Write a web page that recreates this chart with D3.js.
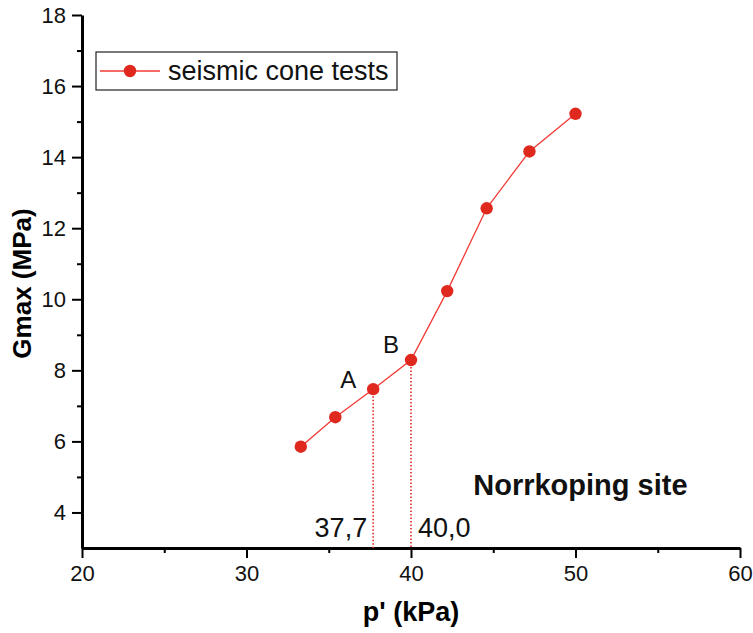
<!DOCTYPE html>
<html>
<head>
<meta charset="utf-8">
<script src="https://cdn.jsdelivr.net/npm/d3@7"></script>
<style>
  body { margin: 0; background: #fff; }
  svg { display: block; font-family: Arial, "Liberation Sans", sans-serif; }
</style>
</head>
<body>
<svg></svg>
<script>
// data
var pressure = [33.3, 35.4, 37.7, 40.0, 42.2, 44.6, 47.2, 50.0];
var gmax = [5.85, 6.68, 7.47, 8.29, 10.23, 12.56, 14.16, 15.22];
var xTicks = [20, 30, 40, 50, 60];
var yTicks = [4, 6, 8, 10, 12, 14, 16, 18];
var markLines = [37.7, 40.0];
var markLabels = ["37,7", "40,0"];
var pointNames = ["A", "B"];

var margin = { top: 15, right: 13, bottom: 85, left: 82 },
    width = 753 - margin.left - margin.right,
    height = 633 - margin.top - margin.bottom;

var svg = d3.select("svg")
    .attr("width", width + margin.left + margin.right)
    .attr("height", height + margin.top + margin.bottom)
    .append("g")
    .attr("transform", "translate(" + margin.left + "," + margin.top + ")");

var x = d3.scaleLinear().domain([20, 60]).range([0, width]);
var y = d3.scaleLinear().domain([3, 18]).range([height, 0]);

var red = "#e0291e";

// minor ticks first
svg.append("g")
    .attr("transform", "translate(0," + height + ")")
    .call(d3.axisBottom(x).tickValues([25, 35, 45, 55]).tickSize(5).tickFormat(""))
    .call(function (g) { g.select(".domain").remove(); })
    .selectAll("line").attr("stroke-width", 2);
svg.append("g")
    .call(d3.axisLeft(y).tickValues([5, 7, 9, 11, 13, 15, 17]).tickSize(5).tickFormat(""))
    .call(function (g) { g.select(".domain").remove(); })
    .selectAll("line").attr("stroke-width", 2);

// X axis
var xAxis = svg.append("g")
    .attr("transform", "translate(0," + height + ")")
    .call(d3.axisBottom(x).tickValues(xTicks).tickSize(10).tickSizeOuter(0).tickPadding(7));
xAxis.select(".domain").attr("stroke-width", 3);
xAxis.selectAll("line").attr("stroke-width", 2);
xAxis.selectAll("text").attr("font-size", 22).attr("fill", "#111");

// Y axis
var yAxis = svg.append("g")
    .call(d3.axisLeft(y).tickValues(yTicks).tickSize(10).tickSizeOuter(0).tickPadding(6));
yAxis.select(".domain").attr("stroke-width", 3);
yAxis.selectAll("line").attr("stroke-width", 2);
yAxis.selectAll("text").attr("font-size", 22).attr("fill", "#111");

// axis titles
svg.append("text")
    .attr("x", x(40))
    .attr("y", height + 73)
    .attr("text-anchor", "middle")
    .attr("font-size", 27)
    .attr("font-weight", "bold")
    .text("p' (kPa)");

svg.append("text")
    .attr("transform", "translate(" + (-51) + "," + (y(10.5) + 2) + ")rotate(-90)")
    .attr("text-anchor", "middle")
    .attr("font-size", 26)
    .attr("font-weight", "bold")
    .text("Gmax (MPa)");

// dotted drop lines
svg.selectAll("line.drop")
    .data(markLines)
    .enter()
    .append("line")
    .attr("class", "drop")
    .attr("x1", function (d) { return x(d); })
    .attr("x2", function (d) { return x(d); })
    .attr("y1", function (d) { return y(gmax[pressure.indexOf(d)]); })
    .attr("y2", height)
    .attr("stroke", red)
    .attr("stroke-width", 1.6)
    .attr("stroke-dasharray", "1.5,2");

svg.selectAll("text.val")
    .data(markLines)
    .enter()
    .append("text")
    .attr("class", "val")
    .attr("x", function (d, i) { return i == 0 ? x(d) - 6 : x(d) + 7; })
    .attr("y", height - 11)
    .attr("text-anchor", function (d, i) { return i == 0 ? "end" : "start"; })
    .attr("font-size", 27)
    .attr("fill", "#111")
    .text(function (d, i) { return markLabels[i]; });

// line + markers
var line = d3.line()
    .x(function (d, i) { return x(pressure[i]); })
    .y(function (d) { return y(d); });

svg.append("path")
    .datum(gmax)
    .attr("d", line)
    .attr("fill", "none")
    .attr("stroke", "#f03a35")
    .attr("stroke-width", 1.3);

svg.selectAll("circle.pt")
    .data(gmax)
    .enter()
    .append("circle")
    .attr("class", "pt")
    .attr("cx", function (d, i) { return x(pressure[i]); })
    .attr("cy", function (d) { return y(d); })
    .attr("r", 6.2)
    .attr("fill", red);

// point names A and B
svg.selectAll("text.name")
    .data(markLines)
    .enter()
    .append("text")
    .attr("class", "name")
    .attr("x", function (d, i) { return x(d) - 25 + i * 5; })
    .attr("y", function (d, i) { return y(gmax[pressure.indexOf(d)]) - 1 - i * 6; })
    .attr("text-anchor", "middle")
    .attr("font-size", 24)
    .attr("fill", "#111")
    .text(function (d, i) { return pointNames[i]; });

// site label
svg.append("text")
    .attr("x", x(50.3))
    .attr("y", height - 53)
    .attr("text-anchor", "middle")
    .attr("font-size", 29)
    .attr("font-weight", "bold")
    .attr("fill", "#111")
    .text("Norrkoping site");

// legend
var legend = svg.append("g").attr("transform", "translate(14,37)");
legend.append("rect")
    .attr("width", 301)
    .attr("height", 38)
    .attr("fill", "#fff")
    .attr("stroke", "#222")
    .attr("stroke-width", 1.2);
legend.append("line")
    .attr("x1", 4).attr("x2", 64)
    .attr("y1", 19).attr("y2", 19)
    .attr("stroke", "#f03a35")
    .attr("stroke-width", 1.3);
legend.append("circle")
    .attr("cx", 34).attr("cy", 19).attr("r", 6.2)
    .attr("fill", red);
legend.append("text")
    .attr("x", 72)
    .attr("y", 28)
    .attr("font-size", 27)
    .attr("fill", "#111")
    .text("seismic cone tests");
</script>
</body>
</html>
